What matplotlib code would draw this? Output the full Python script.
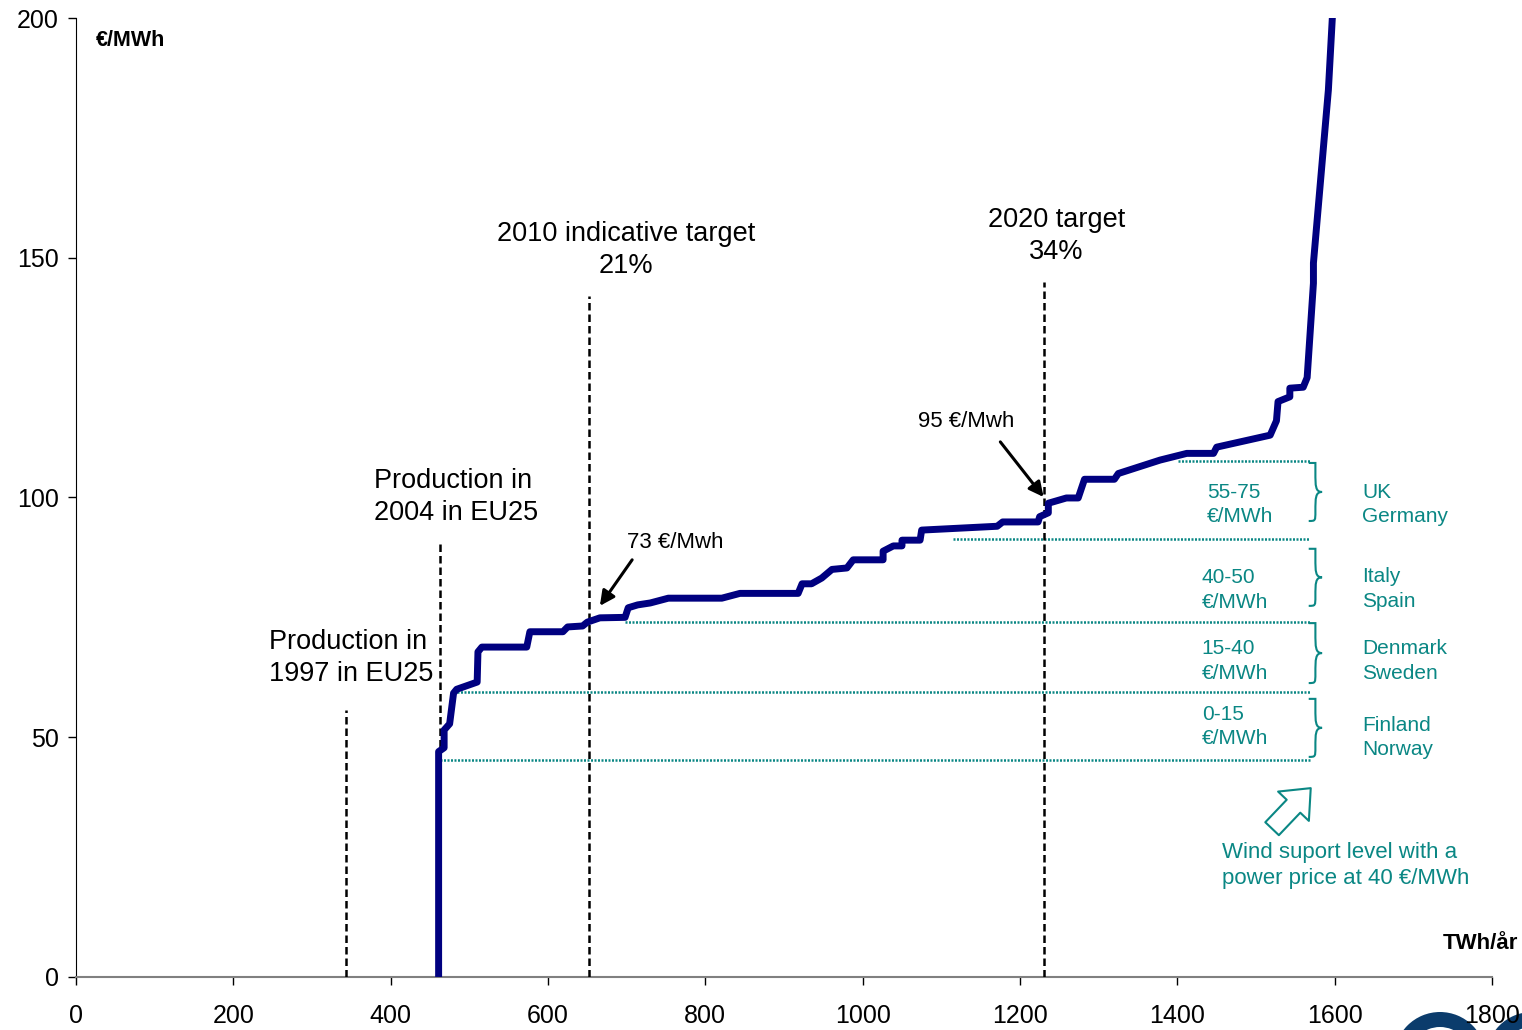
#!/usr/bin/env python3
"""
EU25 wind supply curve with support levels
"""
import matplotlib
matplotlib.use('Agg')
import matplotlib.pyplot as plt
from matplotlib.path import Path
from matplotlib.patches import PathPatch, FancyArrowPatch, Wedge

plt.rcParams['font.family'] = ['Liberation Sans', 'DejaVu Sans']
plt.rcParams['figure.dpi'] = 100
plt.rcParams['font.size'] = 18

# supply curve (TWh/year, EUR/MWh)
curve_twh = [461, 461, 468, 468, 475, 480, 484, 510, 511, 516, 573, 577, 619, 625,
             644, 650, 666, 698, 702, 714, 730, 753, 821, 844, 918, 923, 935, 948,
             961, 980, 988, 1026, 1026, 1039, 1050, 1050, 1073, 1075, 1171, 1178,
             1223, 1225, 1236, 1236, 1259, 1274, 1282, 1320, 1325, 1378, 1412, 1446,
             1450, 1518, 1526, 1528, 1543, 1543, 1560, 1565, 1573, 1573, 1592, 1594,
             1597, 1600]
curve_price = [0, 47, 47.8, 51.5, 52.8, 59.2, 60, 61.5, 67.8, 68.8, 68.8, 72, 72, 73,
               73.2, 74, 74.9, 75, 77, 77.6, 78, 79, 79, 80, 80, 82, 82, 83.2,
               85, 85.3, 87, 87, 88.8, 89.9, 89.9, 91.1, 91.1, 93.2, 94, 94.9,
               94.9, 96, 96.8, 98.8, 99.9, 99.9, 103.8, 103.8, 105, 107.8, 109.2, 109.2,
               110.5, 113, 116, 120, 121, 122.8, 123, 125, 144.7, 148.9, 185, 191,
               200, 215]

# reference lines: x position, top of the line
ref_x = [343, 463, 652, 1230]
ref_top = [55.7, 90.5, 142, 145]
ref_labels = ['Production in\n1997 in EU25', 'Production in\n2004 in EU25',
              '2010 indicative target\n21%', '2020 target\n34%']

# support bands: dotted levels (start x, level)
band_start = [1401, 1115, 698, 484, 463]
band_level = [107.6, 91.3, 74.0, 59.4, 45.3]
band_ranges = ['55-75\n€/MWh', '40-50\n€/MWh', '15-40\n€/MWh', '0-15\n€/MWh']
band_countries = ['UK\nGermany', 'Italy\nSpain', 'Denmark\nSweden', 'Finland\nNorway']

NAVY = '#000080'
TEAL = '#0A8784'


def right_brace(ax, x0, x1, y0, y1):
    """draw a right curly brace between y0 and y1"""
    xm = (x0 + x1) / 2
    ym = (y0 + y1) / 2
    verts = [(x0, y1), (xm, y1), (xm, y1), (xm, y1 - 2.0),
             (xm, ym + 1.2), (xm, ym), (x1, ym),
             (xm, ym), (xm, ym - 1.2), (xm, y0 + 2.0),
             (xm, y0), (xm, y0), (x0, y0)]
    codes = [Path.MOVETO, Path.CURVE3, Path.CURVE3, Path.LINETO,
             Path.CURVE4, Path.CURVE4, Path.CURVE4,
             Path.CURVE4, Path.CURVE4, Path.CURVE4,
             Path.CURVE4, Path.CURVE4, Path.CURVE4]
    ax.add_patch(PathPatch(Path(verts, codes), fill=False, edgecolor=TEAL, lw=1.5,
                           clip_on=False))


def create_supply_curve():
    fig = plt.figure(figsize=(15.22, 10.30))
    ax = fig.add_axes([0.0499, 0.0515, 0.9304, 0.931])

    ax.set_xlim(0, 1800)
    ax.set_ylim(0, 200)
    ax.set_xticks(range(0, 1801, 200))
    ax.set_yticks(range(0, 201, 50))
    ax.tick_params(axis='both', direction='out', labelsize=18, length=5.5, width=1)
    ax.tick_params(axis='x', pad=14)
    ax.tick_params(axis='y', pad=7)
    for s in ['top', 'right']:
        ax.spines[s].set_visible(False)
    ax.spines['left'].set_color('black')
    ax.spines['bottom'].set_color('#808080')
    ax.spines['bottom'].set_linewidth(1.5)

    # reference dashed lines
    for x, top in zip(ref_x, ref_top):
        ax.plot([x, x], [0, top], color='black', lw=1.8, linestyle=(0, (3, 1.6)), zorder=3)

    kw = dict(va='center', fontsize=19.5, linespacing=1.3)
    ax.text(245, 66.5, ref_labels[0], ha='left', **kw)
    ax.text(379, 100.1, ref_labels[1], ha='left', **kw)
    ax.text(699, 151.6, ref_labels[2], ha='center', **kw)
    ax.text(1246, 154.5, ref_labels[3], ha='center', **kw)

    # support levels
    for x0, lvl in zip(band_start, band_level):
        ax.plot([x0, 1568], [lvl, lvl], color=TEAL, lw=1.8, linestyle=(0, (0.8, 0.6)), zorder=2)
    brace_spans = [(95.1, 107.2), (77.4, 89.3), (61.3, 73.8), (45.9, 58.0)]
    range_pos = [(1438, 98.6), (1431, 80.7), (1431, 65.9), (1431, 52.3)]
    country_pos = [98.6, 80.9, 65.9, 50.0]
    for i in range(4):
        right_brace(ax, 1567, 1584, *brace_spans[i])
        ax.text(range_pos[i][0], range_pos[i][1], band_ranges[i], ha='left', va='center',
                fontsize=15, color=TEAL, linespacing=1.35)
        ax.text(1635, country_pos[i], band_countries[i], ha='left', va='center',
                fontsize=15, color=TEAL, linespacing=1.35)

    # supply curve
    ax.plot(curve_twh, curve_price, color=NAVY, lw=5, solid_joinstyle='round',
            solid_capstyle='butt', zorder=4)

    # price callouts
    arrow = dict(arrowstyle='-|>', color='black', lw=2.2, mutation_scale=22,
                 shrinkA=0, shrinkB=0)
    ax.annotate('', xy=(666, 77.4), xytext=(707, 87), arrowprops=arrow, zorder=5)
    ax.text(700, 90.7, '73 €/Mwh', ha='left', va='center', fontsize=16)
    ax.annotate('', xy=(1230, 100.1), xytext=(1175, 111.6), arrowprops=arrow, zorder=5)
    ax.text(1070, 115.9, '95 €/Mwh', ha='left', va='center', fontsize=16)

    # hollow arrow and note
    hollow = FancyArrowPatch((1518, 30.5), (1572, 39.8),
                             arrowstyle='simple,head_length=1.0,head_width=1.7,tail_width=0.75',
                             mutation_scale=18, facecolor='white', edgecolor=TEAL, lw=1.5,
                             clip_on=False)
    ax.add_patch(hollow)
    ax.text(1457, 23.3, 'Wind suport level with a\npower price at 40 €/MWh', ha='left',
            va='center', fontsize=16, color=TEAL, linespacing=1.3)

    # unit labels
    ax.text(25, 195.3, '€/MWh', ha='left', va='center', fontsize=15.5, fontweight='bold')
    ax.text(1738, 6.9, 'TWh/år', ha='left', va='center', fontsize=16, fontweight='bold',
            clip_on=False)

    # cropped logo in the corner
    for cx in [1440, 1532]:
        fig.add_artist(Wedge((cx, -28), 46, 0, 360, width=15, facecolor='#0B3C6C',
                             edgecolor='none', transform=None, zorder=0))

    fig.savefig('out.png', dpi=100)
    plt.close(fig)


def main():
    create_supply_curve()


if __name__ == '__main__':
    main()
